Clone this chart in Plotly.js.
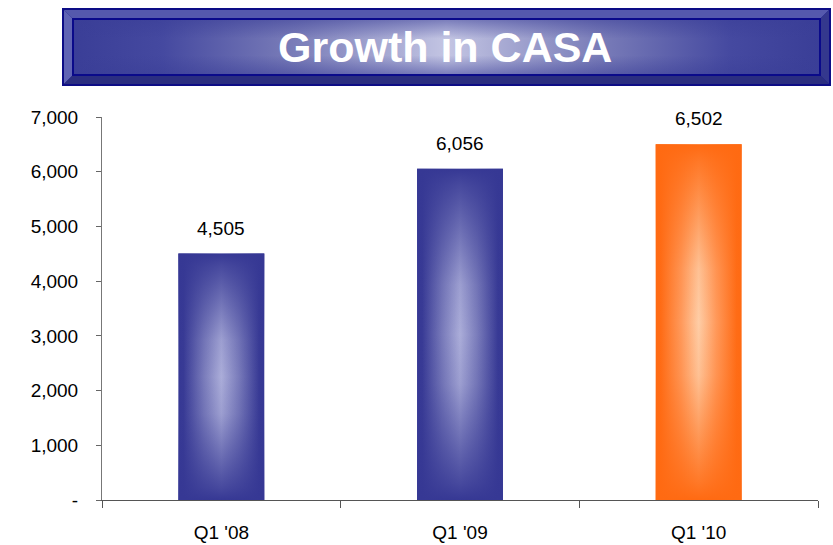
<!DOCTYPE html>
<html>
<head>
<meta charset="utf-8">
<script src="https://cdn.plot.ly/plotly-3.0.1.min.js"></script>
<style>
html,body{margin:0;padding:0;background:#fff;}
#chart{width:833px;height:545px;}
/* gradient skins for the bars drawn by Plotly */
#chart .barlayer .trace:nth-child(1) .point:nth-child(1) path,
#chart .barlayer .trace:nth-child(1) .point:nth-child(2) path { fill: url(#h_blue) !important; }
#chart .barlayer .trace:nth-child(1) .point:nth-child(3) path { fill: url(#h_orange) !important; }
#chart .barlayer .trace:nth-child(2) .point:nth-child(1) path,
#chart .barlayer .trace:nth-child(2) .point:nth-child(2) path { fill: url(#v_blue) !important; fill-opacity: 1 !important; }
#chart .barlayer .trace:nth-child(2) .point:nth-child(3) path { fill: url(#v_orange) !important; fill-opacity: 1 !important; }
</style>
</head>
<body>
<svg width="0" height="0" style="position:absolute">
  <defs>
    <linearGradient id="h_blue" x1="0" y1="0" x2="1" y2="0">
      <stop offset="0" stop-color="#363894"/><stop offset="0.06" stop-color="#383a95"/>
      <stop offset="0.3" stop-color="#7a7cbb"/>
      <stop offset="0.5" stop-color="#abadd9"/>
      <stop offset="0.7" stop-color="#7a7cbb"/>
      <stop offset="0.94" stop-color="#383a95"/><stop offset="1" stop-color="#363894"/>
    </linearGradient>
    <linearGradient id="v_blue" x1="0" y1="0" x2="0" y2="1">
      <stop offset="0" stop-color="#363894" stop-opacity="1"/>
      <stop offset="0.05" stop-color="#363894" stop-opacity="0.85"/>
      <stop offset="0.35" stop-color="#363894" stop-opacity="0.12"/>
      <stop offset="0.5" stop-color="#363894" stop-opacity="0"/>
      <stop offset="0.65" stop-color="#363894" stop-opacity="0.12"/>
      <stop offset="0.95" stop-color="#363894" stop-opacity="0.85"/>
      <stop offset="1" stop-color="#363894" stop-opacity="1"/>
    </linearGradient>
    <linearGradient id="h_orange" x1="0" y1="0" x2="1" y2="0">
      <stop offset="0" stop-color="#ff6a12"/><stop offset="0.06" stop-color="#ff6c16"/>
      <stop offset="0.3" stop-color="#ff9a5c"/>
      <stop offset="0.5" stop-color="#fecda6"/>
      <stop offset="0.7" stop-color="#ff9a5c"/>
      <stop offset="0.94" stop-color="#ff6c16"/><stop offset="1" stop-color="#ff6a12"/>
    </linearGradient>
    <linearGradient id="v_orange" x1="0" y1="0" x2="0" y2="1">
      <stop offset="0" stop-color="#ff6a12" stop-opacity="1"/>
      <stop offset="0.05" stop-color="#ff6a12" stop-opacity="0.85"/>
      <stop offset="0.35" stop-color="#ff6a12" stop-opacity="0.12"/>
      <stop offset="0.5" stop-color="#ff6a12" stop-opacity="0"/>
      <stop offset="0.65" stop-color="#ff6a12" stop-opacity="0.12"/>
      <stop offset="0.95" stop-color="#ff6a12" stop-opacity="0.85"/>
      <stop offset="1" stop-color="#ff6a12" stop-opacity="1"/>
    </linearGradient>
  </defs>
</svg>
<div id="chart"></div>
<script>
// ---- data ----
const categories = ["Q1 '08", "Q1 '09", "Q1 '10"];
const casaValues = [4505, 6056, 6502];
const valueLabels = ["4,505", "6,056", "6,502"];
const barColors = ["#363894", "#363894", "#ff6a12"];
const yTickValues = [0, 1000, 2000, 3000, 4000, 5000, 6000, 7000];
const yTickLabels = ["-", "1,000", "2,000", "3,000", "4,000", "5,000", "6,000", "7,000"];
const chartTitle = "Growth in CASA";

// banner background as svg image
const bannerSvg =
'<svg xmlns="http://www.w3.org/2000/svg" width="769" height="78" viewBox="0 0 769 78" preserveAspectRatio="none">' +
'<defs>' +
'<linearGradient id="h" x1="0" y1="0" x2="1" y2="0">' +
'<stop offset="0" stop-color="#3a3e97"/><stop offset="0.12" stop-color="#4549a0"/>' +
'<stop offset="0.3" stop-color="#7b7eb9"/><stop offset="0.5" stop-color="#c3c5e3"/>' +
'<stop offset="0.7" stop-color="#7b7eb9"/><stop offset="0.88" stop-color="#4549a0"/>' +
'<stop offset="1" stop-color="#3a3e97"/></linearGradient>' +
'<linearGradient id="v" x1="0" y1="0" x2="0" y2="1">' +
'<stop offset="0" stop-color="#3a3e97" stop-opacity="0.55"/><stop offset="0.35" stop-color="#3a3e97" stop-opacity="0"/>' +
'<stop offset="0.65" stop-color="#3a3e97" stop-opacity="0"/><stop offset="1" stop-color="#3a3e97" stop-opacity="0.55"/></linearGradient>' +
'</defs>' +
'<rect x="0" y="0" width="769" height="78" fill="#0d0d86"/>' +
'<polygon points="2,2 767,2 758,11 11,11" fill="#5559ad"/>' +
'<polygon points="2,2 11,11 11,67 2,76" fill="#6064b4"/>' +
'<polygon points="2,76 11,67 758,67 767,76" fill="#2b2e80"/>' +
'<polygon points="767,2 767,76 758,67 758,11" fill="#34388e"/>' +
'<rect x="11" y="11" width="747" height="56" fill="url(#h)"/>' +
'<rect x="11" y="11" width="747" height="56" fill="url(#v)"/>' +
'<rect x="11" y="11" width="747" height="56" fill="none" stroke="#0a0a8a" stroke-width="2"/>' +
'</svg>';

const baseTrace = {
  type: "bar",
  x: categories,
  y: casaValues,
  marker: {color: barColors, line: {width: 0}},
  hoverinfo: "x+y"
};
const shadeTrace = {
  type: "bar",
  x: categories,
  y: casaValues,
  marker: {color: barColors, line: {width: 0}},
  hoverinfo: "skip"
};

const annotations = categories.map((c, i) => ({
  x: c, y: casaValues[i], xref: "x", yref: "y",
  text: valueLabels[i], showarrow: false,
  yanchor: "bottom", yshift: 13,
  font: {family: "Liberation Sans, Arial, sans-serif", size: 19, color: "#000"}
}));
annotations.push({
  x: (445 - 102) / 716, y: (500 - 47) / 383, xref: "paper", yref: "paper",
  text: chartTitle, showarrow: false, xanchor: "center", yanchor: "middle",
  font: {family: "Liberation Sans, Arial, sans-serif", size: 43, color: "#ffffff", weight: "bold"}
});

const layout = {
  width: 833, height: 545,
  margin: {l: 102, r: 15, t: 117, b: 45},
  paper_bgcolor: "#fff", plot_bgcolor: "#fff",
  showlegend: false,
  barmode: "overlay",
  bargap: 0.64,
  font: {family: "Liberation Sans, Arial, sans-serif", size: 19, color: "#000"},
  xaxis: {
    type: "category", tickson: "boundaries", ticks: "outside", ticklen: 7,
    tickcolor: "#555", showline: true, linecolor: "#555", linewidth: 1,
    showgrid: false, zeroline: false, ticklabelstandoff: 15,
    tickfont: {size: 19}
  },
  yaxis: {
    range: [0, 7000], tickvals: yTickValues, ticktext: yTickLabels,
    ticks: "outside", ticklen: 5, tickcolor: "#666", showline: true,
    linecolor: "#777", linewidth: 1, showgrid: false, zeroline: false,
    ticklabelstandoff: 14, tickfont: {size: 19}
  },
  annotations: annotations,
  images: [{
    source: "data:image/svg+xml;charset=utf-8," + encodeURIComponent(bannerSvg),
    xref: "paper", yref: "paper",
    x: (62 - 102) / 716, y: (500 - 8) / 383,
    sizex: (831 - 62) / 716, sizey: (86 - 8) / 383,
    sizing: "stretch", xanchor: "left", yanchor: "top", layer: "above"
  }]
};

Plotly.newPlot("chart", [baseTrace, shadeTrace], layout, {displayModeBar: false, staticPlot: true});
</script>
</body>
</html>
